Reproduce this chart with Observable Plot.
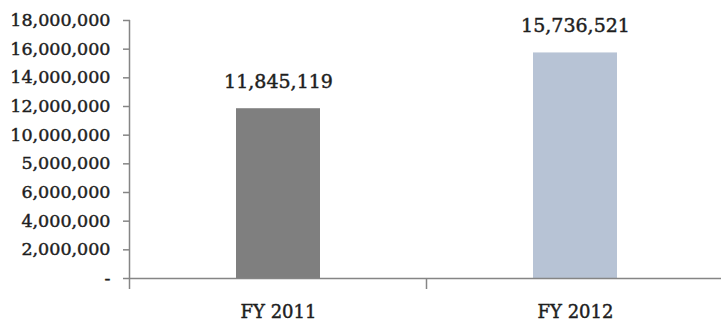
<!DOCTYPE html>
<html>
<head>
<meta charset="utf-8">
<script src="https://cdn.jsdelivr.net/npm/d3@7"></script>
<script src="https://cdn.jsdelivr.net/npm/@observablehq/plot@0.6"></script>
<style>
  html, body { margin: 0; padding: 0; background: #fff; }
  #chart svg { display: block; }
  #chart svg text { stroke: #1e1e1e; stroke-width: 0.45px; }
</style>
</head>
<body>
<div id="chart"></div>
<script>
// Fiscal-year totals
const years = ["FY 2011", "FY 2012"];
const totals = [11845119, 15736521];
const barColors = ["#7f7f7f", "#b7c3d5"];

// Value axis ticks and their printed labels
const yTicks = [0, 2000000, 4000000, 6000000, 8000000, 10000000, 12000000, 14000000, 16000000, 18000000];
const yTickLabels = ["-", "2,000,000", "4,000,000", "6,000,000", "5,000,000", "10,000,000", "12,000,000", "14,000,000", "16,000,000", "18,000,000"];

const rows = years.map((year, i) => ({year, total: totals[i], color: barColors[i]}));

const FONT = "DejaVu Serif";
const AXIS = "#858585";
const INNER = 0.717;

// Category separators under the baseline plus the vertical value axis line
function categoryFrame(index, scales) {
  const {x, y} = scales;
  const bw = typeof x.bandwidth === "function" ? x.bandwidth() : x.bandwidth;
  const step = typeof x.step === "function" ? x.step() : bw / (1 - INNER);
  const g = d3.create("svg:g").attr("stroke", AXIS).attr("stroke-width", 1.5);
  const y0 = y(0);
  const edges = years.map(c => x(c) + bw / 2 - step / 2);
  edges.push(x(years[years.length - 1]) + bw / 2 + step / 2);
  for (const e of edges) {
    g.append("line").attr("x1", e).attr("x2", e).attr("y1", y0).attr("y2", y0 + 11);
  }
  g.append("line")
    .attr("x1", edges[0]).attr("x2", edges[0])
    .attr("y1", y(d3.max(yTicks))).attr("y2", y0);
  return g.node();
}

const chart = Plot.plot({
  width: 721,
  height: 327,
  marginTop: 20,
  marginBottom: 49,
  marginLeft: 130,
  marginRight: 0,
  style: {fontFamily: FONT, color: "#1e1e1e", background: "#fff"},
  x: {domain: years, range: [130, 724], paddingInner: INNER, paddingOuter: INNER / 2, align: 0.5},
  y: {domain: [0, 18000000]},
  marks: [
    Plot.barY(rows, {x: "year", y: "total", fill: "color"}),
    Plot.ruleY([0], {stroke: AXIS, strokeWidth: 1.5}),
    categoryFrame,
    Plot.axisY({
      ticks: yTicks,
      tickFormat: d => yTickLabels[yTicks.indexOf(d)],
      tickSize: 7,
      tickPadding: 13,
      stroke: AXIS,
      strokeWidth: 1.5,
      fontSize: 17.5,
      fill: "#1e1e1e",
      label: null
    }),
    Plot.axisX({
      tickSize: 0,
      tickPadding: 27,
      fontSize: 18,
      fill: "#1e1e1e",
      label: null
    }),
    Plot.text(rows, {
      x: "year",
      y: "total",
      text: d => d3.format(",")(d.total),
      dy: -27,
      fontSize: 19,
      fill: "#1e1e1e"
    })
  ]
});

document.getElementById("chart").append(chart);
</script>
</body>
</html>
